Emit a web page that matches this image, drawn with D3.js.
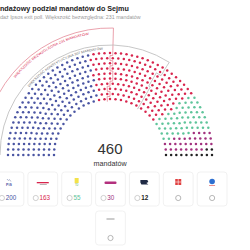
<!DOCTYPE html>
<html><head><meta charset="utf-8">
<script src="https://cdn.jsdelivr.net/npm/d3@7"></script>
<style>
body{margin:0;background:#fff;overflow:hidden}
svg{display:block;font-family:"Liberation Sans",Arial,sans-serif}
</style>
</head><body>
<svg id="chart" width="250" height="250"></svg>
<script>
// ---- data ----
const parties = ["PiS","KO","Trzecia Droga","Lewica","Konfederacja","Bezpartyjni Samorządowcy","Polska Jest Jedna","Inni"];
const seatCounts = [200,163,55,30,12,0,0,0];
const partyColors = ["#4a55a3","#d8254d","#5ec49a","#a2317e","#222222","#e03a3a","#2d6fd0","#9a9a9a"];
const totalSeats = 460;
const majorityThresholds = [231, 307];
const majorityLabels = ["WIĘKSZOŚĆ BEZWZGLĘDNA 231 MANDATÓW","WIĘKSZOŚĆ KONSTYTUCYJNA 307 MANDATÓW"];
const titleText = "Sondażowy podział mandatów do Sejmu";
const subtitleText = "Sondaż Ipsos exit poll. Większość bezwzględna: 231 mandatów";
const centerLabel = ["460","mandatów"];

// ---- layout ----
const svg = d3.select("#chart");
const cx = 110, cy = 155;
const nRings = 10, innerR = 56, outerR = 102;
const ringR = d3.scaleLinear().domain([0, nRings-1]).range([innerR, outerR]);
const ringStep = (outerR-innerR)/(nRings-1);

// seats per ring proportional to radius (largest remainder)
const radii = d3.range(nRings).map(ringR);
const sumR = d3.sum(radii);
let raw = radii.map(r => r/sumR*totalSeats);
let perRing = raw.map(Math.floor);
let rem = totalSeats - d3.sum(perRing);
raw.map((v,i)=>({i,f:v-Math.floor(v)})).sort((a,b)=>b.f-a.f).slice(0,rem).forEach(o=>perRing[o.i]++);

let seatsArr = [];
perRing.forEach((n,ring)=>{
  const ang = d3.scaleLinear().domain([0,n-1]).range([Math.PI,0]);
  for(let j=0;j<n;j++) seatsArr.push({ring, j, n, a:ang(j)});
});
seatsArr.sort((p,q)=> (q.a - p.a) || (q.ring - p.ring));
const cum = d3.cumsum(seatCounts);
seatsArr.forEach((s,k)=>{ s.party = cum.findIndex(c=>k<c); s.order=k; });

const color = d3.scaleOrdinal().domain(d3.range(parties.length)).range(partyColors);
const px = (r,a)=>cx + r*Math.cos(a), py=(r,a)=>cy - r*Math.sin(a);

// title
svg.append("text").attr("x",-9.3).attr("y",11).attr("font-size",7.2).attr("font-weight","bold").attr("fill","#222").text(titleText);
svg.append("text").attr("x",-9.3).attr("y",18.5).attr("font-size",5.3).attr("fill","#999").text(subtitleText);

// majority outlines
const lineR = [127, 110], textR = [122, 105.5];
const lineCol = ["#e58a98","#b9b9b9"], textCol = ["#d8254d","#666"];
const textStartDeg = [39, 40], textLenDeg = [41, 46];
majorityThresholds.forEach((k,mi)=>{
  const included = seatsArr.slice(0,k);
  const bAng = d3.range(nRings).map(ring=>{
    const c = included.filter(s=>s.ring===ring).length;
    const ang = d3.scaleLinear().domain([0,perRing[ring]-1]).range([Math.PI,0]);
    return (ang(c-1)+ang(c))/2;
  });
  const p = d3.path();
  const R = lineR[mi];
  p.moveTo(px(R,Math.PI), py(R,Math.PI));
  p.arc(cx, cy, R, -Math.PI, -bAng[nRings-1], false);
  for(let ring=nRings-1; ring>=0; ring--){
    const r = ringR(ring);
    p.lineTo(px(r+ringStep/2,bAng[ring]), py(r+ringStep/2,bAng[ring]));
    p.lineTo(px(r-ringStep/2,bAng[ring]), py(r-ringStep/2,bAng[ring]));
  }
  svg.append("path").attr("d",p.toString()).attr("fill","none").attr("stroke",lineCol[mi]).attr("stroke-width",0.8);
  const tp = d3.path();
  const tr = textR[mi];
  tp.moveTo(px(tr,Math.PI), py(tr,Math.PI));
  tp.arc(cx, cy, tr, -Math.PI, 0, false);
  svg.append("path").attr("id","tp"+mi).attr("d",tp.toString()).attr("fill","none");
  const startOff = textStartDeg[mi]*Math.PI/180*tr;
  const len = textLenDeg[mi]*Math.PI/180*tr;
  svg.append("text").attr("font-size",3.4).attr("fill",textCol[mi])
    .append("textPath").attr("href","#tp"+mi).attr("startOffset",startOff)
    .attr("textLength",len).attr("lengthAdjust","spacingAndGlyphs").text(majorityLabels[mi]);
});

// seats
svg.append("g").selectAll("circle").data(seatsArr).join("circle")
  .attr("cx",d=>px(ringR(d.ring),d.a)).attr("cy",d=>py(ringR(d.ring),d.a))
  .attr("r",1.25).attr("fill",d=>color(d.party));

// center label
svg.append("text").attr("x",cx).attr("y",154).attr("text-anchor","middle").attr("font-size",15).attr("fill","#333").text(centerLabel[0]);
svg.append("text").attr("x",cx).attr("y",166).attr("text-anchor","middle").attr("font-size",7.2).attr("fill","#333").text(centerLabel[1]);

// legend cards
const band = d3.scaleBand().domain(d3.range(7)).range([-6,227]).paddingInner(0.12).paddingOuter(0);
const cardH = 34;
const cardPos = parties.map((p,i)=> i<7 ? {x:band(i), y:172} : {x:band(3), y:211});
const cards = svg.append("g").selectAll("g").data(parties).join("g")
  .attr("transform",(d,i)=>`translate(${cardPos[i].x},${cardPos[i].y})`);
cards.append("rect").attr("width",band.bandwidth()).attr("height",cardH).attr("rx",3)
  .attr("fill","#fff").attr("stroke","#ededed").attr("stroke-width",0.8);
const bw = band.bandwidth(), mid = bw/2;
cards.each(function(d,i){
  const g = d3.select(this);
  const n = seatCounts[i];
  const ry = i<7 ? 26 : 27;
  if(n>0){
    g.append("circle").attr("cx",mid-7).attr("cy",ry).attr("r",2.6).attr("fill","#fff").attr("stroke","#bbb").attr("stroke-width",0.7);
    g.append("text").attr("x",mid-3.2).attr("y",ry+2.2).attr("font-size",6.3).attr("font-weight",i===4?"bold":"normal").attr("fill",color(i)).text(n);
  } else {
    g.append("circle").attr("cx",mid).attr("cy",ry).attr("r",2.6).attr("fill","#fff").attr("stroke","#999").attr("stroke-width",0.7);
  }
  const ly = i<7 ? 11 : 8;
  if(i===0){
    g.append("path").attr("d",`M${mid-2},${ly-4} l1.5,1.5 l1,-1 l1.5,2`).attr("fill","none").attr("stroke","#8a93b8").attr("stroke-width",0.7);
    g.append("text").attr("x",mid).attr("y",ly+2.5).attr("text-anchor","middle").attr("font-size",3.6).attr("font-weight","bold").attr("fill","#4a55a3").text("PiS");
  } else if(i===1){
    g.append("rect").attr("x",mid-6).attr("y",ly-1).attr("width",12).attr("height",1.3).attr("fill","#d8254d");
    g.append("rect").attr("x",mid-3).attr("y",ly+1).attr("width",7).attr("height",0.7).attr("fill","#999");
  } else if(i===2){
    g.append("rect").attr("x",mid-2).attr("y",ly-5).attr("width",4).attr("height",5).attr("fill","#f3e24a");
    g.append("text").attr("x",mid).attr("y",ly+3).attr("text-anchor","middle").attr("font-size",2.6).attr("fill","#5aa83c").text("TD");
  } else if(i===3){
    g.append("rect").attr("x",mid-6).attr("y",ly-1.5).attr("width",12).attr("height",2.6).attr("rx",1).attr("fill","#b3307e");
  } else if(i===4){
    g.append("path").attr("d",`M${mid-4},${ly-3} h7 l1,2 l-2,1 l2,1.5 h-7 l-1,-2 z`).attr("fill","#1f2a44");
  } else if(i===5){
    g.append("rect").attr("x",mid-3).attr("y",ly-4).attr("width",6).attr("height",6).attr("fill","#e04040");
    g.append("path").attr("d",`M${mid},${ly-4} v6 M${mid-3},${ly-1} h6`).attr("stroke","#fff").attr("stroke-width",0.6);
  } else if(i===6){
    g.append("circle").attr("cx",mid).attr("cy",ly-1.5).attr("r",2.8).attr("fill","#2d6fd0");
    g.append("rect").attr("x",mid-3).attr("y",ly+2).attr("width",6).attr("height",0.8).attr("fill","#e57373");
  } else {
    g.append("rect").attr("x",mid-4).attr("y",ly-0.5).attr("width",8).attr("height",1).attr("fill","#999");
  }
});
</script>
</body></html>
